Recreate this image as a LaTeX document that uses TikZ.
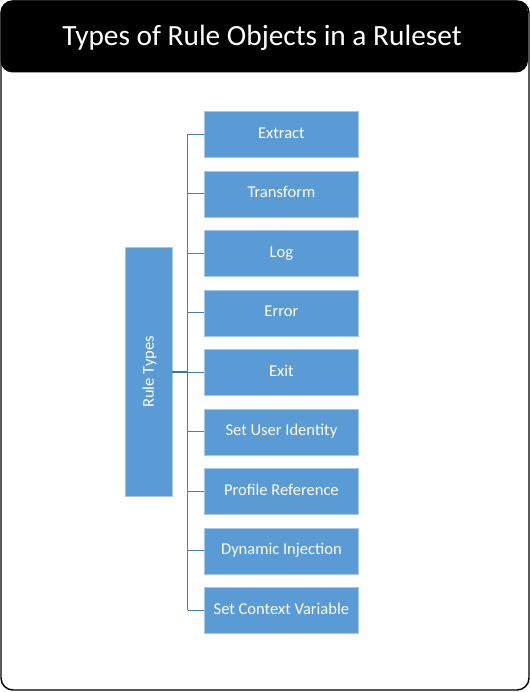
\documentclass[tikz,border=0pt]{standalone}
\usepackage{fontspec}
\setmainfont{Carlito}
\definecolor{boxblue}{HTML}{5B9BD5}
\definecolor{boxedge}{HTML}{A7C7E8}
\definecolor{linkblue}{HTML}{4A7EBB}
\definecolor{mainlink}{HTML}{41719C}
\begin{document}
\begin{tikzpicture}[x=0.75pt,y=-0.75pt,
  childbox/.style={fill=boxblue, draw=boxedge, line width=0.6pt, text=white,
    font=\fontsize{12.4}{14}\selectfont, minimum width=115.5pt, minimum height=34.5pt,
    inner sep=0pt, anchor=north west, text height=8pt, text depth=2pt},
  rootbox/.style={fill=boxblue, draw=boxedge, line width=0.6pt,
    minimum width=35.25pt, minimum height=186.75pt, inner sep=0pt, anchor=north west},
  roottext/.style={text=white, font=\fontsize{12.4}{14}\selectfont, rotate=90,
    inner sep=0pt, text height=8.25pt, text depth=0pt},
  link/.style={draw=linkblue, line width=0.8pt},
  mainlinkst/.style={draw=mainlink, line width=1.5pt},
  titletext/.style={text=white, font=\fontsize{22}{26}\selectfont, anchor=base}]
\useasboundingbox (0,0) rectangle (530,692);
% frame and header
\draw[line width=1.1pt, rounded corners=9pt] (1,1) rectangle (529,690);
\fill[black, rounded corners=9pt] (0.5,0.5) rectangle (528,72.5);
\node[titletext] (title) at (262,46) {Types of Rule Objects in a Ruleset};
% root
\node[rootbox] (rt) at (124.5,247) {};
\node[roottext] (rtlabel) at (rt.center) {Rule Types};
% children
\node[childbox] (c1) at (204,111) {Extract};
\node[childbox] (c2) at (204,170.5) {Transform};
\node[childbox] (c3) at (204,230) {Log};
\node[childbox] (c4) at (204,289.5) {Error};
\node[childbox] (c5) at (204,349) {Exit};
\node[childbox] (c6) at (204,408.5) {Set User Identity};
\node[childbox] (c7) at (204,468) {Profile Reference};
\node[childbox] (c8) at (204,527.5) {Dynamic Injection};
\node[childbox] (c9) at (204,587) {Set Context Variable};
% connectors
\coordinate (bx) at (187.5,0);
\draw[link] (c1.west -| bx) -- (c9.west -| bx);
\foreach \c in {c1,c2,c3,c4,c5,c6,c7,c8,c9}{
  \draw[link] (\c.west -| bx) -- (\c.west);
}
\draw[mainlinkst] (rt.east) -- (rt.east -| bx);
\end{tikzpicture}
\end{document}
